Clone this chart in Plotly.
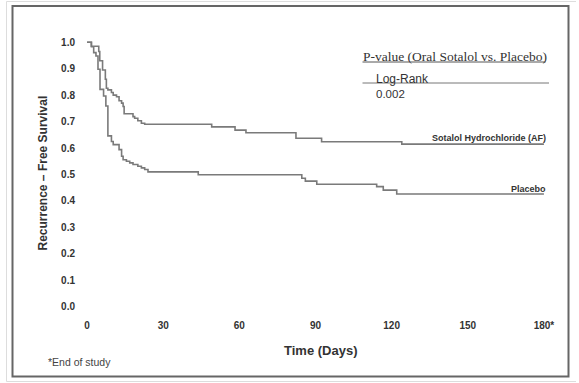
import plotly.graph_objects as go

# ---- data ----
sotalol_days = [0, 1.7, 4.6, 5.0, 6.1, 7.2, 7.6, 8.2, 9.6, 10.3, 11.6, 12.6, 13.6, 14.2, 14.6,
                18.1, 18.75, 20.0, 21.4, 22.7, 49.1, 58.3, 62.6, 82.3, 92.4, 124.0, 180]
sotalol_surv = [1.0, 0.985, 0.965, 0.93, 0.895, 0.86, 0.826, 0.82, 0.81, 0.80, 0.794, 0.779, 0.77, 0.757, 0.73,
                0.719, 0.713, 0.703, 0.694, 0.69, 0.68, 0.668, 0.658, 0.637, 0.624, 0.615, 0.615]

placebo_days = [0, 1.7, 2.6, 3.5, 4.3, 5.1, 6.5, 7.4, 8.2, 9.6, 10.3, 12.6, 13.6, 14.2, 15.5, 16.8,
                18.1, 20.0, 21.4, 22.7, 24.0, 43.8, 84.6, 86.0, 90.5, 114.1, 116.7, 122.0, 180]
placebo_surv = [1.0, 0.983, 0.961, 0.948, 0.898, 0.822, 0.797, 0.759, 0.646, 0.625, 0.613, 0.594, 0.569, 0.556, 0.55, 0.544,
                0.538, 0.531, 0.525, 0.519, 0.51, 0.499, 0.486, 0.475, 0.463, 0.454, 0.441, 0.426, 0.426]

y_ticks = [0.0, 0.1, 0.2, 0.3, 0.4, 0.5, 0.6, 0.7, 0.8, 0.9, 1.0]
y_labels = ["0.0", "0.1", "0.2", "0.3", "0.4", "0.5", "0.6", "0.7", "0.8", "0.9", "1.0"]
x_ticks = [0, 30, 60, 90, 120, 150, 180]
x_labels = ["0", "30", "60", "90", "120", "150", "180*"]

# ---- layout geometry ----
W, H = 579, 383
L, R, T, B = 82, 30, 37, 71
PW, PH = W - L - R, H - T - B


def px(x):
    return (x - L) / PW


def py(y):
    return (H - B - y) / PH


SANS = "Liberation Sans"
SERIF = "Liberation Serif"
TXT = "#333333"
LINE = "#7a7a7a"

fig = go.Figure()
fig.add_trace(go.Scatter(x=sotalol_days, y=sotalol_surv, mode="lines", line_shape="hv",
                         line=dict(color=LINE, width=1.6), name="Sotalol Hydrochloride (AF)"))
fig.add_trace(go.Scatter(x=placebo_days, y=placebo_surv, mode="lines", line_shape="hv",
                         line=dict(color=LINE, width=1.6), name="Placebo"))

fig.update_layout(
    width=W, height=H,
    margin=dict(l=L, r=R, t=T, b=B, pad=0),
    paper_bgcolor="white", plot_bgcolor="white",
    showlegend=False,
    xaxis=dict(range=[-2, 182], tickvals=x_ticks, ticktext=x_labels,
               showgrid=False, zeroline=False, showline=False, ticks="",
               ticklabelstandoff=6,
               tickfont=dict(family=SANS, size=10, color=TXT, weight="bold")),
    yaxis=dict(range=[-0.02, 1.02], tickvals=y_ticks, ticktext=y_labels,
               showgrid=False, zeroline=False, showline=False, ticks="",
               ticklabelstandoff=6,
               tickfont=dict(family=SANS, size=10, color=TXT, weight="bold")),
)

ann = []
ann.append(dict(text="Recurrence \u2013 Free Survival", x=px(42), y=py(173.5), textangle=-90,
                xanchor="center", yanchor="middle",
                font=dict(family=SANS, size=12, color=TXT, weight="bold")))
ann.append(dict(text="Time (Days)", x=px(320), y=py(350), xanchor="center", yanchor="middle",
                font=dict(family=SANS, size=13, color=TXT, weight="bold")))
ann.append(dict(text="*End of study", x=px(46), y=py(361.5), xanchor="left", yanchor="middle",
                font=dict(family=SANS, size=10.5, color="#444444")))
ann.append(dict(text="P-value (Oral Sotalol vs. Placebo)", x=px(361), y=py(56.5),
                xanchor="left", yanchor="middle",
                font=dict(family=SERIF, size=13.5, color=TXT)))
ann.append(dict(text="Log-Rank", x=px(373.5), y=py(79), xanchor="left", yanchor="middle",
                font=dict(family=SANS, size=12, color=TXT)))
ann.append(dict(text="0.002", x=px(373.5), y=py(93.5), xanchor="left", yanchor="middle",
                font=dict(family=SANS, size=11.5, color=TXT)))
ann.append(dict(text="Sotalol Hydrochloride (AF)", x=px(548), y=py(138), xanchor="right", yanchor="middle",
                font=dict(family=SANS, size=9, color=TXT, weight="bold")))
ann.append(dict(text="Placebo", x=px(548), y=py(189), xanchor="right", yanchor="middle",
                font=dict(family=SANS, size=9, color=TXT, weight="bold")))
for a in ann:
    a.update(xref="paper", yref="paper", showarrow=False)
fig.update_layout(annotations=ann)

shapes = [
    # outer frame
    dict(type="rect", x0=px(12.5), x1=px(568.5), y0=py(376.5), y1=py(6),
         line=dict(color="#666666", width=2)),
    # faint outer edge
    dict(type="line", x0=px(6.5), x1=px(6.5), y0=py(381.5), y1=py(1.5), line=dict(color="#dddddd", width=1)),
    dict(type="line", x0=px(6.5), x1=px(576), y0=py(381.5), y1=py(381.5), line=dict(color="#dddddd", width=1)),
    dict(type="line", x0=px(6.5), x1=px(576), y0=py(1.5), y1=py(1.5), line=dict(color="#dddddd", width=1)),
    # underline of P-value heading
    dict(type="line", x0=px(362.5), x1=px(545.5), y0=py(62), y1=py(62), line=dict(color="#555555", width=1)),
    # rule under Log-Rank
    dict(type="line", x0=px(362.5), x1=px(549), y0=py(83), y1=py(83), line=dict(color="#777777", width=1)),
]
for s in shapes:
    s.update(xref="paper", yref="paper", layer="above")
fig.update_layout(shapes=shapes)

fig.write_html("out.html", config={"displayModeBar": False},
               post_script="document.body.style.margin='0';document.body.style.overflow='hidden';")
